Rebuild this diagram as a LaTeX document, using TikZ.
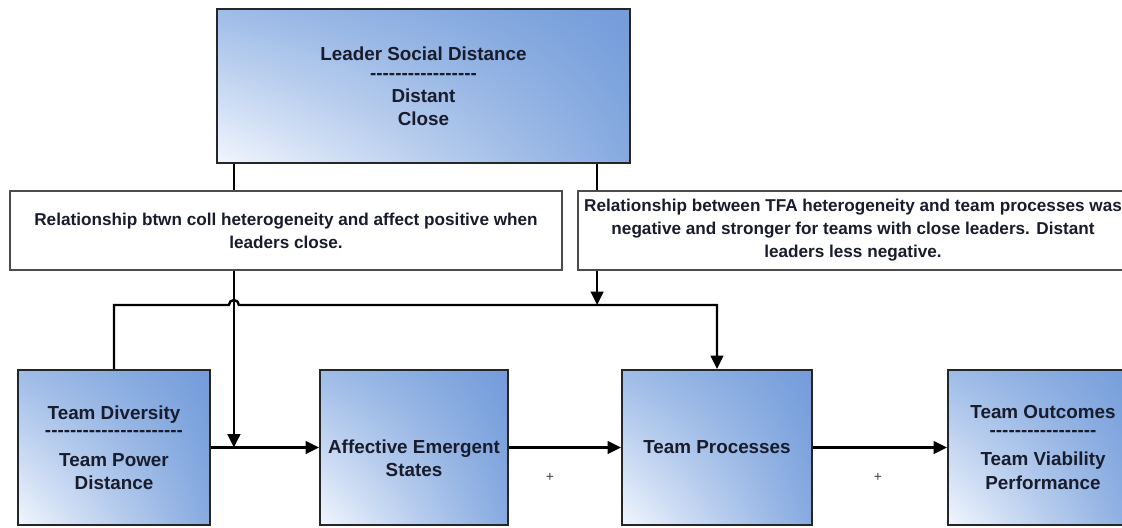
\documentclass[tikz,border=0pt]{standalone}
\usepackage{fontspec}
\setmainfont{Liberation Sans}
\usetikzlibrary{arrows.meta,calc,shadings}
\definecolor{boxul}{RGB}{158,188,231}
\definecolor{boxur}{RGB}{116,156,218}
\definecolor{boxll}{RGB}{242,246,253}
\definecolor{boxlr}{RGB}{134,170,224}
\definecolor{textcol}{RGB}{24,28,44}
\newcommand\dashrow[1]{\foreach \dd in {1,...,#1}{-\kern0pt}}
\tikzset{
	fbox/.style={draw=black!85, line width=1.5pt, upper left=boxul, upper right=boxur, lower left=boxll, lower right=boxlr, align=center, text=textcol, font=\bfseries\fontsize{13.4}{16.4}\selectfont, inner sep=0pt},
	boxtext/.style={align=center, text=textcol, font=\bfseries\fontsize{13.4}{16.4}\selectfont, inner sep=0pt},
	note/.style={draw=black!70, line width=1.1pt, fill=white, align=center, text=textcol, font=\bfseries\fontsize{12.2}{16.4}\selectfont, inner sep=0pt},
	link/.style={line width=1.7pt, draw=black},
	arr/.style={link, -{Triangle[length=9.5pt,width=9pt]}},
	plus/.style={font=\fontsize{10}{12}\selectfont, text=black!75, inner sep=0pt}
}

\begin{document}
\begin{tikzpicture}[x=0.025cm, y=-0.025cm]
			%%%%% START %%%%%
			\useasboundingbox (0, 0) rectangle (1122, 527);
			
			\node[fbox, minimum width=10.325cm, minimum height=3.85cm] (lsd) at (423.5, 86) {Leader Social Distance\\[-2.5pt]\dashrow{17}\\[-0.3pt]Distant\\Close};
			
			\node[note, minimum width=13.8cm, minimum height=1.975cm] (notel) at (286, 230.5) {Relationship btwn coll heterogeneity and affect positive when\\leaders close.};
			\node[note, minimum width=13.75cm, minimum height=1.975cm] (noter) at (853, 230.5) {Relationship between TFA heterogeneity and team processes was\\negative and stronger for teams with close leaders. Distant\\leaders less negative.};
			
			\node[fbox, minimum width=4.8cm, minimum height=3.875cm] (div) at (114, 447.5) {Team Diversity\\[-4pt]\dashrow{22}\\[4.6pt]Team Power\\Distance};
			\node[fbox, minimum width=4.7cm, minimum height=3.875cm] (aes) at (414, 447.5) {};
			\node[boxtext] (aeslbl) at ($(aes.center)+(0, 11)$) {Affective Emergent\\States};
			\node[fbox, minimum width=4.75cm, minimum height=3.875cm] (proc) at (717, 447.5) {Team Processes};
			\node[fbox, minimum width=4.75cm, minimum height=3.875cm] (out) at (1043, 447.5) {Team Outcomes\\[-4pt]\dashrow{17}\\[4.6pt]Team Viability\\Performance};
			
			\node[plus] (plusa) at (550, 477) {+};
			\node[plus] (plusb) at (878, 477) {+};
			
			% leader distance down to the two notes
			\draw[link] (lsd.south west) ++(18, 0) coordinate (tl) -- (tl |- notel.north);
			\draw[link] (lsd.south east) ++(-34, 0) coordinate (tr) -- (tr |- noter.north);
			
			% the bus over the boxes, hopping the left line
			\coordinate (bus) at (114, 305);
			\draw[arr] (div.north) -- (div.north |- bus) -- ($(tl |- bus)+(-5, 0)$) arc[start angle=180, end angle=360, radius=5] -- (proc.north |- bus) -- (proc.north);
			\draw[arr] (tl |- notel.south) -- (tl |- div.east);
			\draw[arr] (tr |- noter.south) -- (tr |- bus);
			
			\draw[arr] (div.east) -- (aes.west);
			\draw[arr] (aes.east) -- (proc.west);
			\draw[arr] (proc.east) -- (out.west);
			
			%%%%% END %%%%%
\end{tikzpicture}
\end{document}
